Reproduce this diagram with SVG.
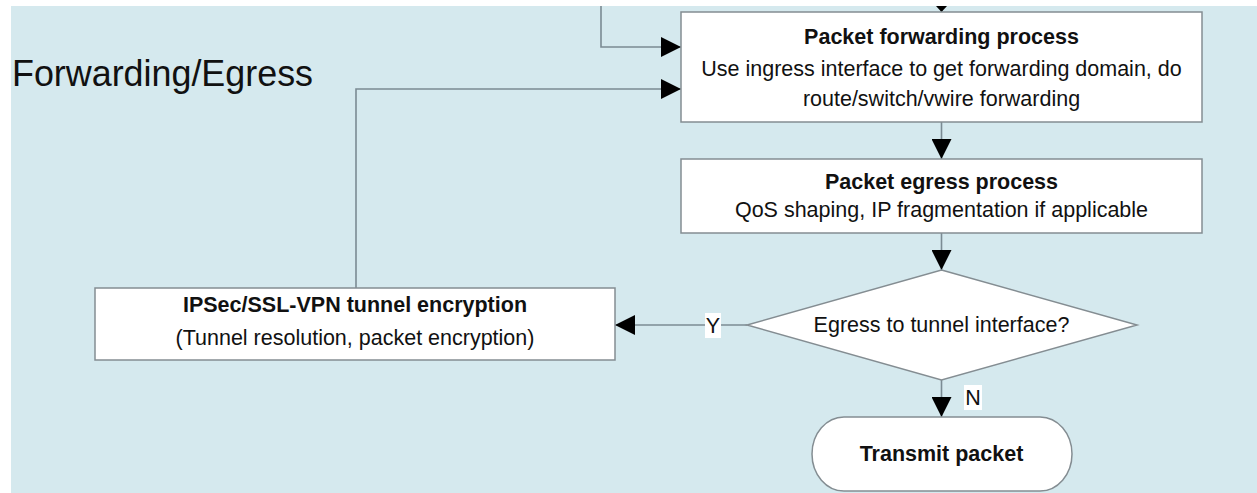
<svg xmlns="http://www.w3.org/2000/svg" width="1257" height="493" viewBox="0 0 1257 493">
  <style>
    .box { fill: #ffffff; stroke: #848d92; stroke-width: 1.5; }
    .conn { fill: none; stroke: #7b8b93; stroke-width: 1.6; }
    .t { font-family: "Liberation Sans", Arial, sans-serif; font-size: 21.5px; fill: #111; text-anchor: middle; }
    .b { font-weight: bold; }
    .lbl { fill: #ffffff; }
  </style>
  <defs>
    <marker id="arr" markerUnits="userSpaceOnUse" markerWidth="20" markerHeight="20" viewBox="0 0 20 20" refX="20" refY="10" orient="auto">
      <path d="M0,0 L20,10 L0,20 Z" fill="#000"/>
    </marker>
  </defs>
  <rect x="0" y="0" width="1257" height="493" fill="#ffffff"/>
  <rect x="11" y="6" width="1246" height="487" fill="#d5e9ee"/>

  <text x="12" y="86" font-family="'Liberation Sans', Arial, sans-serif" font-size="37" fill="#111" textLength="301" lengthAdjust="spacingAndGlyphs">Forwarding/Egress</text>

  <g id="connectors">
    <polyline class="conn" points="601,6 601,47 681,47" marker-end="url(#arr)"/>
    <polyline class="conn" points="356,288 356,89 681,89" marker-end="url(#arr)"/>
    <line class="conn" x1="941.5" y1="6" x2="941.5" y2="12"/>
    <path d="M936,6 L947,6 L941.5,12 Z" fill="#000"/>
    <line class="conn" x1="941.5" y1="122" x2="941.5" y2="159" marker-end="url(#arr)"/>
    <line class="conn" x1="941.5" y1="233" x2="941.5" y2="270" marker-end="url(#arr)"/>
    <line class="conn" x1="747" y1="325" x2="615" y2="325" marker-end="url(#arr)"/>
    <line class="conn" x1="941.5" y1="380" x2="941.5" y2="417" marker-end="url(#arr)"/>
    <rect class="lbl" x="705" y="313" width="16" height="25"/>
    <text class="t" x="713" y="333">Y</text>
    <rect class="lbl" x="964" y="385" width="18" height="25"/>
    <text class="t" x="973" y="405">N</text>
  </g>

  <g id="node-forwarding">
    <rect class="box" x="681" y="12" width="521" height="110"/>
    <text class="t b" x="941.5" y="44">Packet forwarding process</text>
    <text class="t" x="941.5" y="76">Use ingress interface to get forwarding domain, do</text>
    <text class="t" x="941.5" y="106">route/switch/vwire forwarding</text>
  </g>

  <g id="node-egress">
    <rect class="box" x="681" y="159" width="521" height="74"/>
    <text class="t b" x="941.5" y="189">Packet egress process</text>
    <text class="t" x="941.5" y="217">QoS shaping, IP fragmentation if applicable</text>
  </g>

  <g id="node-decision">
    <polygon class="box" points="941.5,270 1137,325 941.5,380 747,325"/>
    <text class="t" x="941.5" y="332">Egress to tunnel interface?</text>
  </g>

  <g id="node-ipsec">
    <rect class="box" x="95" y="288" width="520" height="72"/>
    <text class="t b" x="355" y="312">IPSec/SSL-VPN tunnel encryption</text>
    <text class="t" x="355" y="345">(Tunnel resolution, packet encryption)</text>
  </g>

  <g id="node-transmit">
    <rect class="box" x="812" y="417" width="260" height="74" rx="32" ry="37"/>
    <text class="t b" x="941.5" y="461">Transmit packet</text>
  </g>
</svg>
